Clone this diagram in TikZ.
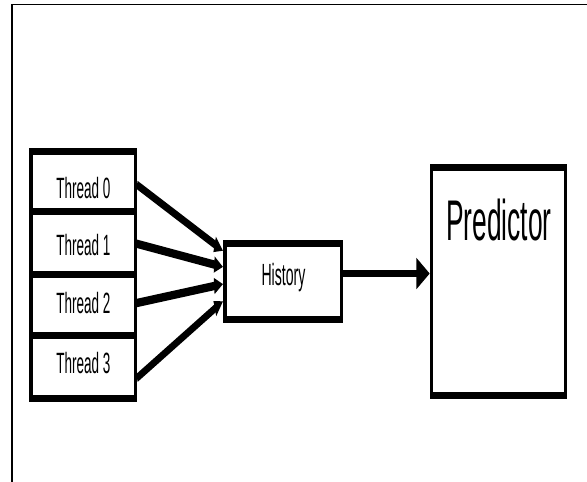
\documentclass[tikz,border=0pt]{standalone}
\usepackage{fontspec}
\setmainfont{Liberation Sans}
\usetikzlibrary{arrows.meta}
\begin{document}
\begin{tikzpicture}[x=0.75pt,y=-0.75pt]
\useasboundingbox (0,0) rectangle (587,482);
% outer frame: top and left edges
\draw[line width=1.1pt] (12,482) -- (12,4.5) -- (587,4.5);
% the diagram itself is drawn wide and then squeezed horizontally
\begin{scope}[transform canvas={xscale=0.46}, x=1.630435pt, y=-0.75pt,
  box/.style={draw, line width=5.25pt, fill=white, inner sep=0pt},
  threadbox/.style={box, minimum width=170.05pt},
  threadtext/.style={anchor=base, font=\fontsize{22}{25}\selectfont},
  feed/.style={line width=6.3pt, -{Triangle[length=15pt,width=11pt]}},
  mainarrow/.style={line width=5.1pt, -{Triangle[length=22pt,width=22pt]}}]
  % thread stack
  \node[threadbox, minimum height=44.5pt] (t0) at (83.2,181.35) {};
  \node[threadbox, minimum height=48pt]   (t1) at (83.2,243) {};
  \node[threadbox, minimum height=45.4pt] (t2) at (83.2,305.25) {};
  \node[threadbox, minimum height=47.1pt] (t3) at (83.2,366.9) {};
  \node[threadtext] (t0text) at (83.5,198) {Thread 0};
  \node[threadtext] (t1text) at (83.5,255) {Thread 1};
  \node[threadtext] (t2text) at (83.5,313) {Thread 2};
  \node[threadtext] (t3text) at (83.5,373) {Thread 3};
  % history buffer
  \node[box, minimum width=190.3pt, minimum height=57pt] (hist) at (283.3,281) {};
  \node[anchor=base, font=\fontsize{23}{26}\selectfont] (histtext) at (283.5,285) {History};
  % predictor
  \node[box, minimum width=218.8pt, minimum height=171pt] (pred) at (498.6,281) {};
  \node[anchor=base, font=\fontsize{43}{48}\selectfont] (predtext) at (499,240) {Predictor};
  % connectors
  \draw[feed] ([yshift=-2.6pt]t0.east) -- ([yshift=22.5pt]hist.west);
  \draw[feed] ([yshift=-0.6pt]t1.east) -- ([yshift=10.5pt]hist.west);
  \draw[feed] ([yshift=1.7pt]t2.east) -- ([yshift=-2.25pt]hist.west);
  \draw[feed] ([yshift=-8.3pt]t3.east) -- ([yshift=-15pt]hist.west);
  \draw[mainarrow] ([yshift=5.6pt]hist.east) -- ([yshift=5.6pt]pred.west);
\end{scope}
\end{tikzpicture}
\end{document}
